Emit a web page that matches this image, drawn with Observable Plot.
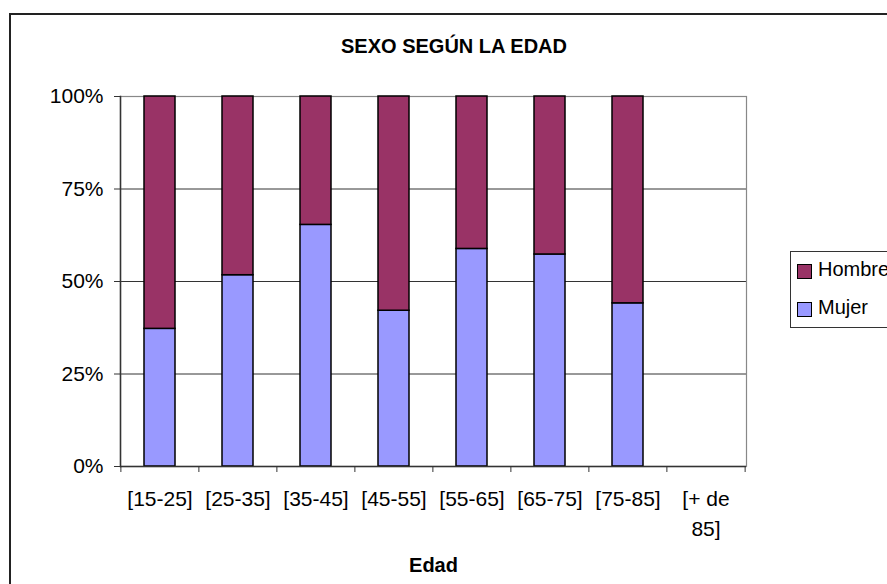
<!DOCTYPE html>
<html><head><meta charset="utf-8">
<script src="https://cdn.jsdelivr.net/npm/d3@7"></script>
<script src="https://cdn.jsdelivr.net/npm/@observablehq/plot@0.6"></script>
<style>
body{margin:0;background:#fff;font-family:"Liberation Sans",Arial,sans-serif;}
#wrap{position:relative;width:887px;height:584px;overflow:hidden;background:#fff;}
#frame{position:absolute;left:9px;top:13px;width:1000px;height:700px;border:2px solid #222;box-sizing:border-box;}
#title{position:absolute;left:0;width:908px;top:35.7px;text-align:center;font-weight:bold;font-size:20px;line-height:20px;color:#000;}
#chart{position:absolute;left:0;top:0;}
#legend{position:absolute;left:790px;top:251px;width:200px;height:77px;border:1px solid #333;box-sizing:border-box;background:#fff;}
.sw{position:absolute;left:6px;width:15px;height:15px;border:1.5px solid #000;box-sizing:border-box;}
.lt{position:absolute;left:27px;font-size:20px;line-height:20px;color:#000;white-space:nowrap;}
</style>
</head><body>
<div id="wrap">
  <div id="frame"></div>
  <div id="chart"></div>
  <div id="title"></div>
  <div id="legend"></div>
</div>
<script>
const title = "SEXO SEGÚN LA EDAD";
const xLabel = "Edad";
const categories = ["[15-25]","[25-35]","[35-45]","[45-55]","[55-65]","[65-75]","[75-85]","[+ de 85]"];
const mujer  = [37.2, 51.7, 65.3, 42.1, 58.8, 57.3, 44.1, null];
const hombre = [62.8, 48.3, 34.7, 57.9, 41.2, 42.7, 55.9, null];
const series = ["Hombre","Mujer"];
const colors = ["#993366","#9999FF"];
const yTicks = [0,25,50,75,100];

const data = [];
categories.forEach((c,i)=>{
  if (mujer[i] != null) data.push({edad:c, sexo:"Mujer", pct:mujer[i]});
  if (hombre[i] != null) data.push({edad:c, sexo:"Hombre", pct:hombre[i]});
});

const W = 887, H = 584, mT = 96, mL = 120, mR = 141, mB = 118;
const step = (W - mL - mR) / categories.length;
const plotH = H - mT - mB;
const font = '"Liberation Sans", Arial, sans-serif';
const wrapLabel = d => { const i = d.lastIndexOf(" "); return i < 0 ? d : d.slice(0, i) + "\n" + d.slice(i + 1); };

const chart = Plot.plot({
  width: W, height: H,
  marginTop: mT, marginLeft: mL, marginRight: mR, marginBottom: mB,
  style: {fontFamily: font, fontSize: "21px", color: "#000", background: "transparent", overflow: "visible"},
  x: {domain: categories, paddingInner: 0.6, paddingOuter: 0.3},
  y: {domain: [0, 100]},
  color: {domain: series, range: colors},
  marks: [
    Plot.gridY(yTicks.filter(t => t > 0 && t < 100), {stroke: "#333", strokeOpacity: 1}),
    Plot.frame({stroke: "#888", strokeWidth: 1.2}),
    Plot.barY(data, {x: "edad", y: "pct", fill: "sexo", stroke: "#000", strokeWidth: 1.5}),
    Plot.ruleY([0], {stroke: "#333", strokeWidth: 1.5}),
    Plot.frame({anchor: "left", stroke: "#333", strokeWidth: 1.5}),
    Plot.axisY({ticks: yTicks, tickFormat: d => d + "%", tickSize: 6, tickPadding: 11, stroke: "#333", label: null}),
    Plot.axisX({tickSize: 0, tickPadding: 18, tickFormat: wrapLabel, lineHeight: 1.43, label: null}),
    Plot.ruleX(categories, {x: d => d, dx: -step / 2, insetTop: plotH, insetBottom: -6, stroke: "#333"}),
    Plot.ruleX(categories.slice(-1), {x: d => d, dx: step / 2, insetTop: plotH, insetBottom: -6, stroke: "#333"}),
    Plot.text([xLabel], {frameAnchor: "bottom", dy: 99.5, fontWeight: "bold", fontSize: 20, lineAnchor: "middle", fill: "#000"})
  ]
});
document.getElementById("chart").appendChild(chart);
document.getElementById("title").textContent = title;

const legend = document.getElementById("legend");
const legendOrder = ["Hombre","Mujer"];
legendOrder.forEach((s, i) => {
  const sw = document.createElement("div");
  sw.className = "sw";
  sw.style.top = (12 + i * 38) + "px";
  sw.style.background = colors[series.indexOf(s)];
  legend.appendChild(sw);
  const t = document.createElement("div");
  t.className = "lt";
  t.style.top = (7 + i * 38.4) + "px";
  t.textContent = s;
  legend.appendChild(t);
});
</script>
</body></html>
